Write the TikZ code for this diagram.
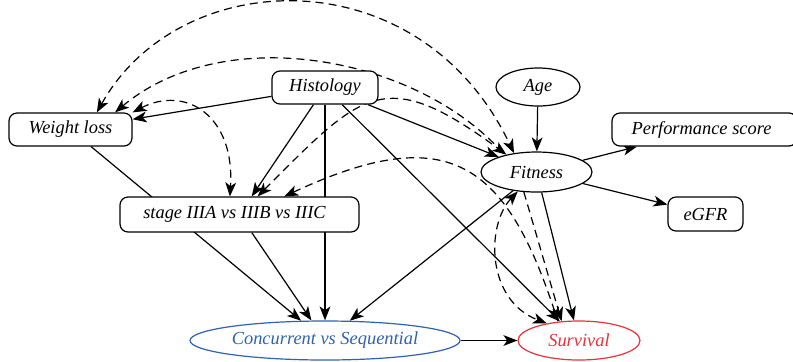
\documentclass[tikz,border=0pt]{standalone}
\usepackage{fontspec}
\setmainfont{Liberation Serif}
\usetikzlibrary{arrows.meta,shapes.geometric,backgrounds}
\definecolor{treatblue}{HTML}{2F62AF}
\definecolor{outcomered}{HTML}{E8323C}
\tikzset{
  lbl/.style={font=\fontsize{9.2}{11}\selectfont\itshape},
  var/.style={lbl, draw, rounded corners=4pt, fill=white, inner sep=0pt, line width=0.6pt},
  oval/.style={lbl, ellipse, draw, fill=white, inner sep=0pt, line width=0.6pt},
  tip/.tip={Stealth[length=7pt,width=5.4pt,inset=1.9pt]},
  causal/.style={-tip, line width=0.6pt},
  latent/.style={tip-tip, dash pattern=on 4pt off 2.6pt, line width=0.6pt},
}
\begin{document}
\begin{tikzpicture}[x=0.5pt,y=-0.5pt]
\useasboundingbox (0,0) rectangle (793,361);

% variables
\node[var, minimum width=61.5pt, minimum height=16.5pt] (wl) at (70.5,129.5) {Weight loss};
\node[var, minimum width=53pt, minimum height=16.5pt] (hist) at (325,87.5) {Histology};
\node[oval, minimum width=42pt, minimum height=19pt] (age) at (538,87) {Age};
\node[var, minimum width=92.5pt, minimum height=16.5pt] (perf) at (704.5,129.5) {\hspace*{-3pt}Performance score};
\node[oval, minimum width=55.5pt, minimum height=20pt] (fit) at (536.5,172) {Fitness};
\node[var, minimum width=37.5pt, minimum height=17pt] (egfr) at (705.5,214) {eGFR};
\node[var, minimum width=119.5pt, minimum height=17.5pt] (stage) at (239.5,214.5) {\hspace*{-5pt}stage IIIA vs IIIB vs IIIC};
\node[oval, draw=treatblue, text=treatblue, minimum width=135pt, minimum height=19.5pt] (conc) at (325,340.5) {Concurrent vs Sequential};
\node[oval, draw=outcomered, text=outcomered, minimum width=61pt, minimum height=19.5pt] (surv) at (579,340.5) {Survival};

% hidden routing point behind Fitness
\coordinate (wlsvia) at (518,172);

\begin{scope}[on background layer]
  % direct causal effects
  \draw[causal] (hist) -- (wl);
  \draw[causal] (hist) -- (stage);
  \draw[causal] (hist.south) -- (conc.north);
  \draw[causal] (hist) -- (fit);
  \draw[causal] (hist) -- (surv);
  \draw[causal] (wl) -- (conc);
  \draw[causal] (stage) -- (conc);
  \draw[causal] (age) -- (fit);
  \draw[causal] (fit) -- (perf);
  \draw[causal] (fit) -- (egfr);
  \draw[causal] (fit) -- (conc);
  \draw[causal] (fit) -- (surv);
  \draw[causal] (conc) -- (surv);

  % unobserved common causes
  \draw[latent] (wl.33) .. controls (180,-36) and (420,-44) .. (fit.140);
  \draw[latent] (wl.21) .. controls (230,16) and (440,60) .. (wlsvia) -- (surv.132);
  \draw[latent] (wl.north east) .. controls (185,85) and (235,115) .. (stage.118);
  \draw[latent] (stage.45) .. controls (363,91) and (384,64.5) .. (fit.150);
  \draw[latent] (stage.22) .. controls (446,121) and (505,159.5) .. (surv.138);
  \draw[latent] (fit.226) .. controls (486,225) and (486,300) .. (surv.152);
\end{scope}
\end{tikzpicture}
\end{document}
